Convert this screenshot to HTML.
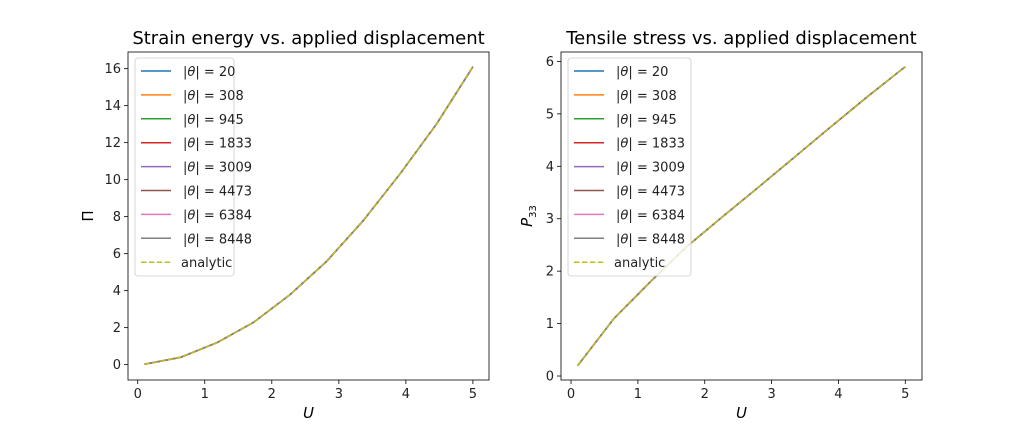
<!DOCTYPE html>
<html><head><meta charset="utf-8"><style>
body{margin:0;background:#fff}
svg{display:block;font-family:"DejaVu Sans","Liberation Sans",sans-serif}
</style></head><body>
<svg id="fig" width="1024" height="427" viewBox="0 0 1024 427"></svg>
<script>
const U = [0.1, 0.644, 1.189, 1.733, 2.278, 2.822, 3.367, 3.911, 4.456, 5.0];
const energyValues = [0.02, 0.4, 1.2, 2.3, 3.8, 5.6, 7.8, 10.3, 13.0, 16.1];
const stressValues = [0.2, 1.1, 1.8, 2.47, 3.05, 3.62, 4.2, 4.78, 5.35, 5.9];
const seriesLabels = ["20","308","945","1833","3009","4473","6384","8448"];
const seriesColors = ["#1f77b4","#ff7f0e","#2ca02c","#d62728","#9467bd","#8c564b","#e377c2","#7f7f7f"];
const xTicks = [0,1,2,3,4,5];
const energyTicks = [0,2,4,6,8,10,12,14,16];
const stressTicks = [0,1,2,3,4,5,6];

const NS="http://www.w3.org/2000/svg";
const fig=document.getElementById('fig');
function mk(tag,attrs,parent,text){const e=document.createElementNS(NS,tag);for(const k in attrs)e.setAttribute(k,attrs[k]);if(text!==undefined)e.textContent=text;(parent||fig).appendChild(e);return e;}

function panel(p){
  const g=mk('g',{});
  
  
  const sx=v=>p.x0+(v-p.xmin)/(p.xmax-p.xmin)*(p.x1-p.x0);
  const sy=v=>p.y1-(v-p.ymin)/(p.ymax-p.ymin)*(p.y1-p.y0);
  xTicks.forEach(t=>{
    const x=sx(t);
    const l=mk('line',{x1:x,x2:x,y1:p.y1,y2:p.y1+4,stroke:'#000','stroke-width':0.8},g);
    
    const tx=mk('text',{x:x,y:p.y1+18,'font-size':13,'text-anchor':'middle',fill:'#222'},g,String(t));
    
  });
  p.yTicks.forEach(t=>{
    const y=sy(t);
    const l=mk('line',{x1:p.x0-4,x2:p.x0,y1:y,y2:y,stroke:'#000','stroke-width':0.8},g);
    
    const tx=mk('text',{x:p.x0-7,y:y+4.5,'font-size':13,'text-anchor':'end',fill:'#222'},g,String(t));
    
  });
  seriesColors.forEach((c,i)=>{
    const pl=mk('polyline',{points:U.map((u,j)=>sx(u)+','+sy(p.values[j])).join(' '),fill:'none',stroke:c,'stroke-width':1.5},g);
    
    
  });
  const an=mk('polyline',{points:U.map((u,j)=>sx(u)+','+sy(p.values[j])).join(' '),fill:'none',stroke:'#bcbd22','stroke-width':1.5,'stroke-dasharray':'5.5,2.4'},g);
  
  const fr=mk('rect',{x:p.x0,y:p.y0,width:p.x1-p.x0,height:p.y1-p.y0,fill:'none',stroke:'#000','stroke-width':0.8},g);
  
  const lg=mk('g',{},g);
  
  mk('rect',{x:p.x0+7,y:p.y0+6,width:p.lw,height:218,rx:3,fill:'rgba(255,255,255,0.8)',stroke:'#ccc','stroke-width':0.8},lg);
  const lx=p.x0+13;
  seriesColors.forEach((c,i)=>{
    const y=p.y0+19+i*23.9;
    const e=mk('g',{},lg);
    
    mk('line',{x1:lx,x2:lx+30,y1:y,y2:y,stroke:c,'stroke-width':1.5},e);
    const t=mk('text',{x:lx+42,y:y+5,'font-size':13,fill:'#222'},e);
    t.innerHTML='|<tspan font-style="italic">θ</tspan>| = '+seriesLabels[i];
  });
  const ya=p.y0+19+8*23.9;
  const e=mk('g',{},lg);
  
  mk('line',{x1:lx,x2:lx+30,y1:ya,y2:ya,stroke:'#bcbd22','stroke-width':1.5,'stroke-dasharray':'5.5,2.4'},e);
  mk('text',{x:lx+40,y:ya+5,'font-size':13,fill:'#222'},e,'analytic');
  const tt=mk('text',{x:(p.x0+p.x1)/2,y:p.y0-8,'font-size':18,'text-anchor':'middle',fill:'#000'},g,p.title);
  
  const xl=mk('text',{x:(p.x0+p.x1)/2,y:p.y1+38,'font-size':15,'font-style':'italic','text-anchor':'middle',fill:'#000'},g,'U');
  
  const cy=(p.y0+p.y1)/2;
  const yl=mk('text',{x:p.ylx,y:cy,'font-size':15,'text-anchor':'middle',fill:'#000',transform:'rotate(-90 '+p.ylx+' '+cy+')'},g);
  yl.innerHTML=p.ylabel;
  
}
panel({name:'strain-energy-chart',x0:128,x1:489,y0:52,y1:380,xmin:-0.145,xmax:5.24,ymin:-0.83,ymax:16.9,values:energyValues,yTicks:energyTicks,title:'Strain energy vs. applied displacement',ylabel:'Π',ylx:93,lw:99});
panel({name:'tensile-stress-chart',x0:561,x1:922,y0:52,y1:380,xmin:-0.15,xmax:5.25,ymin:-0.076,ymax:6.18,values:stressValues,yTicks:stressTicks,title:'Tensile stress vs. applied displacement',ylabel:'<tspan font-style="italic">P</tspan><tspan font-size="10" dy="4">33</tspan>',ylx:532,lw:123});
</script>
</body></html>
